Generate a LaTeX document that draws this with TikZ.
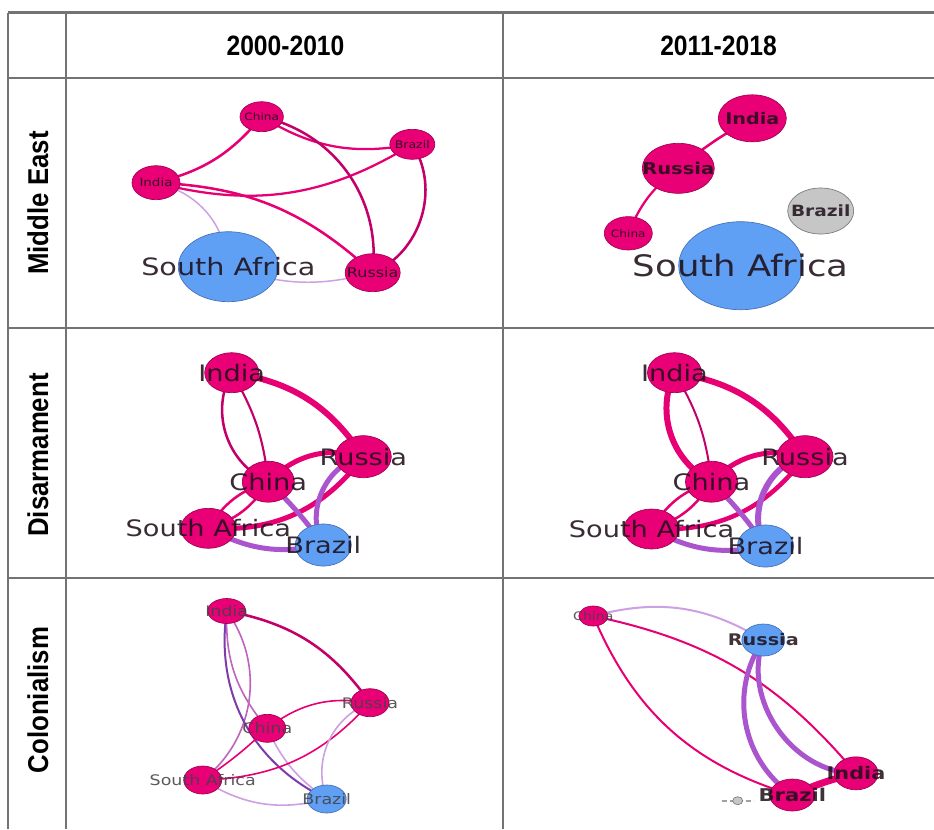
\documentclass[tikz,border=0pt]{standalone}
\usepackage{fontspec}
\usetikzlibrary{shapes.geometric,backgrounds}
\newfontfamily\hdfont[FakeStretch=0.88]{Liberation Sans}
\newfontfamily\rowfont[FakeStretch=0.9]{Liberation Sans}
\newfontfamily\netfont[FakeStretch=1.2]{DejaVu Sans}
\definecolor{pinkc}{RGB}{233,0,118}
\definecolor{pinkd}{RGB}{160,0,80}
\definecolor{pinkE}{RGB}{230,0,115}
\definecolor{dpinkE}{RGB}{195,0,105}
\definecolor{purE}{RGB}{170,85,205}
\definecolor{lpurE}{RGB}{205,160,225}
\definecolor{mpurE}{RGB}{190,100,190}
\definecolor{dpurE}{RGB}{125,60,170}
\definecolor{bluec}{RGB}{95,160,245}
\definecolor{blued}{RGB}{70,110,180}
\definecolor{grayc}{RGB}{198,198,198}
\definecolor{grayd}{RGB}{120,120,120}
\definecolor{gridc}{RGB}{115,115,115}
\definecolor{labc}{RGB}{30,15,25}
\definecolor{labg}{RGB}{70,65,70}
\tikzset{
  nd/.style={ellipse, inner sep=0pt, outer sep=0pt, line width=0.5pt},
  pk/.style={nd, fill=pinkc, draw=pinkd},
  bl/.style={nd, fill=bluec, draw=blued},
  gr/.style={nd, fill=grayc, draw=grayd},
  sz/.style 2 args={minimum width={#1*1.5pt}, minimum height={#2*1.5pt}},
  lab/.style={font=\netfont\fontsize{#1}{#1}\selectfont, text=labc, text opacity=0.88, inner sep=0pt},
  labb/.style={font=\netfont\bfseries\fontsize{#1}{#1}\selectfont, text=labc, text opacity=0.85, inner sep=0pt},
  labgr/.style={lab=#1, text=labg},
  ed/.style={line cap=round},
  grid/.style={draw=gridc, line width=1.8pt},
  hd/.style={font=\hdfont\bfseries\fontsize{21pt}{21pt}\selectfont, text=black, inner sep=0pt},
  rowhd/.style={font=\rowfont\bfseries\fontsize{21.5pt}{21.5pt}\selectfont, text=black, inner sep=0pt, rotate=90},
}
\begin{document}
\begin{tikzpicture}[x=0.75pt,y=-0.75pt]
\useasboundingbox (0,0) rectangle (934,829);
\begin{pgfonlayer}{background}
\fill[white] (0,0) rectangle (934,829);
\end{pgfonlayer}

% ---------- table grid ----------
\draw[grid] (8,12.5) -- (934,12.5);
\draw[grid] (8,78) -- (934,78);
\draw[grid] (8,328) -- (934,328);
\draw[grid] (8,578) -- (934,578);
\draw[grid] (8,12.5) -- (8,829);
\draw[grid] (66,12.5) -- (66,829);
\draw[grid] (503,12.5) -- (503,829);

\node[hd] (h1) at (285.5,46) {2000-2010};
\node[hd] (h2) at (718.5,46) {2011-2018};
\node[rowhd] (r1) at (38,203) {Middle East};
\node[rowhd] (r2) at (38,455) {Disarmament};
\node[rowhd] (r3) at (38,700) {Colonialism};

% ---------- Middle East 2000-2010 ----------
\node[pk, sz={21.7}{15}, label={[lab=7.6pt]center:China}] (ci1) at (261.7,116.7) {};
\node[pk, sz={22.5}{15}, label={[lab=7.8pt]center:Brazil}] (br1) at (412.3,144.3) {};
\node[pk, sz={24}{17}, label={[lab=8.4pt]center:India}] (in1) at (156,182.7) {};
\node[bl, sz={50}{35}, label={[lab=17.9pt]center:South Africa}] (sa1) at (228.3,266.7) {};
\node[pk, sz={27.5}{19}, label={[lab=10pt]center:Russia}] (ru1) at (372.7,272.7) {};
\begin{pgfonlayer}{background}
\draw[ed, pinkE, line width=1.9pt] (in1.center) to[bend right=18] (ci1.center);
\draw[ed, pinkE, line width=1.7pt] (in1.center) to[bend right=23] (br1.center);
\draw[ed, pinkE, line width=1.9pt] (in1.center) to[bend left=20] (ru1.center);
\draw[ed, pinkE, line width=1.7pt] (ci1.center) to[bend right=21] (br1.center);
\draw[ed, dpinkE, line width=1.9pt] (ci1.center) to[bend left=42] (ru1.center);
\draw[ed, dpinkE, line width=1.9pt] (br1.center) to[bend left=50] (ru1.center);
\draw[ed, lpurE, line width=1.1pt] (in1.center) to[bend left=36] (sa1.center);
\draw[ed, lpurE, line width=1.1pt] (sa1.center) to[bend right=17] (ru1.center);
\end{pgfonlayer}

% ---------- Middle East 2011-2018 ----------
\node[pk, sz={34}{23.5}, label={[labb=12pt]center:India}] (in2) at (752.3,118.3) {};
\node[pk, sz={36}{25}, label={[labb=12.2pt]center:Russia}] (ru2) at (678.3,168.3) {};
\node[pk, sz={24}{16.7}, label={[lab=7.6pt]center:China}] (ci2) at (628.3,233.3) {};
\node[gr, sz={33}{23}, label={[labb=11.6pt]center:Brazil}] (br2) at (820.7,211) {};
\node[bl, sz={62}{44}, label={[lab=22.2pt]center:South Africa}] (sa2) at (740.7,265.7) {};
\begin{pgfonlayer}{background}
\draw[ed, pinkE, line width=1.9pt] (in2.center) to[bend right=5] (ru2.center);
\draw[ed, pinkE, line width=1.7pt] (ru2.center) to[bend right=15] (ci2.center);
\end{pgfonlayer}

% ---------- Disarmament 2000-2010 ----------
\node[pk, sz={27}{20}, label={[lab=17pt]center:India}] (in3) at (231.7,372.7) {};
\node[pk, sz={28}{21}, label={[lab=17pt]center:Russia}] (ru3) at (363.3,456.7) {};
\node[pk, sz={26}{20.5}, label={[lab=17pt]center:China}] (ci3) at (268.3,481.7) {};
\node[pk, sz={27.5}{20}, label={[lab=17pt]center:South Africa}] (sa3) at (208.3,528.3) {};
\node[bl, sz={28}{21}, label={[lab=17pt]center:Brazil}] (br3) at (323.3,545) {};
\begin{pgfonlayer}{background}
\draw[ed, pinkE, line width=4.5pt] (in3.center) to[bend left=24] (ru3.center);
\draw[ed, dpinkE, line width=1.9pt] (in3.center) to[bend right=48] (ci3.center);
\draw[ed, dpinkE, line width=1.6pt] (in3.center) to[bend left=12] (ci3.center);
\draw[ed, pinkE, line width=3.75pt] (ci3.center) to[bend left=30] (ru3.center);
\draw[ed, pinkE, line width=3.75pt] (sa3.center) to[bend right=28] (ru3.center);
\draw[ed, pinkE, line width=1.9pt] (ci3.center) to[bend left=20] (sa3.center);
\draw[ed, pinkE, line width=1.9pt] (ci3.center) to[bend right=20] (sa3.center);
\draw[ed, purE, line width=3.75pt] (ci3.center) to[bend left=5] (br3.center);
\draw[ed, purE, line width=3.75pt] (ru3.center) to[bend right=55] (br3.center);
\draw[ed, purE, line width=3.75pt] (sa3.center) to[bend right=20] (br3.center);
\end{pgfonlayer}

% ---------- Disarmament 2011-2018 ----------
\node[pk, sz={27}{20}, label={[lab=17pt]center:India}] (in4) at (674.5,372.7) {};
\node[pk, sz={28}{21}, label={[lab=17pt]center:Russia}] (ru4) at (805,456.7) {};
\node[pk, sz={26}{20.5}, label={[lab=17pt]center:China}] (ci4) at (711.5,481.7) {};
\node[pk, sz={27.5}{20}, label={[lab=17pt]center:South Africa}] (sa4) at (651.5,529) {};
\node[bl, sz={28}{21}, label={[lab=17pt]center:Brazil}] (br4) at (765.5,546) {};
\begin{pgfonlayer}{background}
\draw[ed, pinkE, line width=4.5pt] (in4.center) to[bend left=24] (ru4.center);
\draw[ed, pinkE, line width=4.5pt] (in4.center) to[bend right=44] (ci4.center);
\draw[ed, dpinkE, line width=1.5pt] (in4.center) to[bend left=12] (ci4.center);
\draw[ed, pinkE, line width=3.75pt] (ci4.center) to[bend left=30] (ru4.center);
\draw[ed, pinkE, line width=3.4pt] (sa4.center) to[bend right=28] (ru4.center);
\draw[ed, pinkE, line width=1.9pt] (ci4.center) to[bend left=20] (sa4.center);
\draw[ed, pinkE, line width=1.9pt] (ci4.center) to[bend right=20] (sa4.center);
\draw[ed, purE, line width=3.75pt] (ci4.center) to[bend left=5] (br4.center);
\draw[ed, purE, line width=4.5pt] (ru4.center) to[bend right=55] (br4.center);
\draw[ed, purE, line width=3.75pt] (sa4.center) to[bend right=20] (br4.center);
\end{pgfonlayer}

% ---------- Colonialism 2000-2010 ----------
\node[pk, sz={19}{12.5}, label={[labgr=10.9pt]center:India}] (in5) at (226.7,611) {};
\node[pk, sz={19}{14}, label={[labgr=10.9pt]center:Russia}] (ru5) at (370,702.7) {};
\node[pk, sz={18.5}{14}, label={[labgr=10.9pt]center:China}] (ci5) at (267.3,728.3) {};
\node[pk, sz={19}{14}, label={[labgr=10.9pt]center:South Africa}] (sa5) at (202.7,780) {};
\node[bl, sz={19.5}{14}, label={[labgr=10.9pt]center:Brazil}] (br5) at (326.7,799) {};
\begin{pgfonlayer}{background}
\draw[ed, dpinkE, line width=1.9pt] (in5.center) to[bend left=22] (ru5.center);
\draw[ed, mpurE, line width=1.2pt] (in5.center) to[bend left=44] (sa5.center);
\draw[ed, dpurE, line width=1.5pt] (in5.center) to[bend right=36] (br5.center);
\draw[ed, mpurE, line width=1.2pt] (in5.center) to[bend right=21] (ci5.center);
\draw[ed, pinkE, line width=1.2pt] (ci5.center) to[bend left=23] (ru5.center);
\draw[ed, pinkE, line width=1.2pt] (ci5.center) to[bend left=5] (sa5.center);
\draw[ed, lpurE, line width=1.2pt] (ci5.center) to[bend right=15] (br5.center);
\draw[ed, pinkE, line width=1.2pt] (sa5.center) to[bend right=23] (ru5.center);
\draw[ed, lpurE, line width=1.2pt] (ru5.center) to[bend right=45] (br5.center);
\draw[ed, lpurE, line width=1.2pt] (sa5.center) to[bend right=23] (br5.center);
\end{pgfonlayer}

% ---------- Colonialism 2011-2018 ----------
\node[pk, sz={14.5}{10}, label={[labgr=8.8pt]center:China}] (ci6) at (593.3,616) {};
\node[bl, sz={21.5}{16}, label={[labb=12pt]center:Russia}] (ru6) at (763.3,640) {};
\node[pk, sz={22}{16.5}, label={[labb=13pt]center:India}] (in6) at (856,773.3) {};
\node[pk, sz={22.5}{16}, label={[labb=13.2pt]center:Brazil}] (br6) at (792.3,795) {};
\node[gr, sz={5}{4}] (sm6) at (737.7,800.7) {};
\coordinate (sml) at (721.5,800.7);
\coordinate (smr) at (753.5,800.7);
\begin{pgfonlayer}{background}
\draw[ed, lpurE, line width=1.5pt] (ci6.center) to[bend left=23] (ru6.center);
\draw[ed, pinkE, line width=1.5pt] (ci6.center) to[bend left=19] (in6.center);
\draw[ed, pinkE, line width=1.5pt] (ci6.center) to[bend right=25] (br6.center);
\draw[ed, purE, line width=3.75pt] (ru6.center) to[bend right=45] (br6.center);
\draw[ed, purE, line width=3.75pt] (ru6.center) to[bend right=55] (in6.center);
\draw[ed, pinkE, line width=5.2pt] (br6.center) to[bend left=5] (in6.center);
\draw[grayd!70, line width=1.2pt, dash pattern=on 4pt off 2pt] (sml) -- (smr);
\end{pgfonlayer}
\end{tikzpicture}
\end{document}
